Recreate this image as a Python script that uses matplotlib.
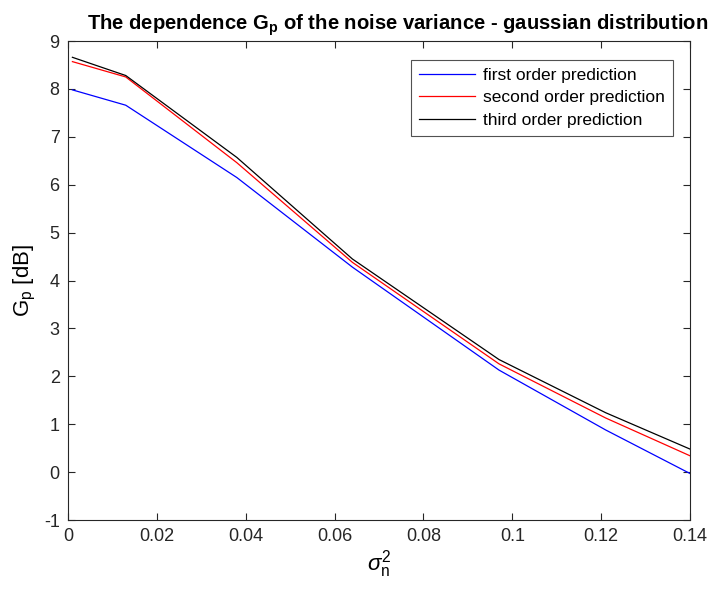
import matplotlib
matplotlib.use("Agg")
import matplotlib.pyplot as plt

plt.rcParams["font.family"] = "Liberation Sans"
plt.rcParams["mathtext.fontset"] = "custom"
plt.rcParams["mathtext.rm"] = "Liberation Sans"
plt.rcParams["mathtext.it"] = "Liberation Sans:italic"
plt.rcParams["mathtext.bf"] = "Liberation Sans:bold"
plt.rcParams["axes.unicode_minus"] = False

# noise variance values
noise_var = [0.001, 0.013, 0.038, 0.064, 0.097, 0.121, 0.14]

# prediction gain Gp [dB]
gp_first = [7.98, 7.66, 6.15, 4.28, 2.13, 0.88, -0.03]
gp_second = [8.57, 8.25, 6.46, 4.38, 2.26, 1.13, 0.34]
gp_third = [8.66, 8.28, 6.57, 4.45, 2.35, 1.24, 0.48]

labels = ["first order prediction", "second order prediction", "third order prediction"]

fig = plt.figure(figsize=(7.11, 5.92), dpi=100)
ax = fig.add_axes([0.0956, 0.1216, 0.875, 0.8091])

ax.plot(noise_var, gp_first, color="#0000ff", linewidth=0.9, label=labels[0])
ax.plot(noise_var, gp_second, color="#ff0000", linewidth=0.9, label=labels[1])
ax.plot(noise_var, gp_third, color="#000000", linewidth=0.9, label=labels[2])

ax.set_xlim(0, 0.14)
ax.set_ylim(-1, 9)
ax.set_xticks([0, 0.02, 0.04, 0.06, 0.08, 0.1, 0.12, 0.14])
ax.set_xticklabels(["0", "0.02", "0.04", "0.06", "0.08", "0.1", "0.12", "0.14"])
ax.set_yticks(range(-1, 10))

# matlab-ish box
for spine in ax.spines.values():
    spine.set_color("#262626")
    spine.set_linewidth(0.8)
ax.tick_params(direction="in", length=5, width=0.8, colors="#262626",
               labelsize=13, top=True, right=True, pad=6)

ax.set_title(r"The dependence G$_{\mathbf{p}}$ of the noise variance - gaussian distribution",
             fontsize=14.6, fontweight="bold", pad=8, x=0.53)
ax.set_ylabel(r"G$_\mathrm{p}$ [dB]", fontsize=16, labelpad=4)
ax.set_xlabel(r"$\sigma_\mathrm{n}^2$", fontsize=16, labelpad=2)

leg = ax.legend(loc="upper right", bbox_to_anchor=(0.9727, 0.9603), borderaxespad=0,
                fontsize=12.5, frameon=True, fancybox=False, edgecolor="#262626",
                handlelength=3.2, handletextpad=0.5, borderpad=0.45, labelspacing=0.42)
leg.get_frame().set_linewidth(0.8)

fig.savefig("out.png", dpi=100, facecolor="white")
